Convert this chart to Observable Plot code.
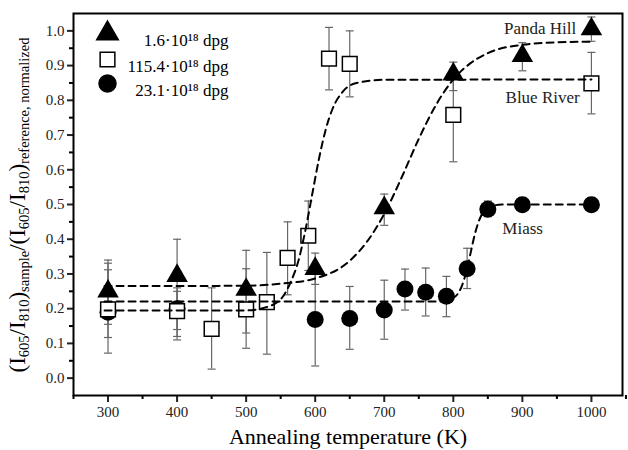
<!DOCTYPE html>
<html><head><meta charset="utf-8">
<script src="https://cdn.jsdelivr.net/npm/d3@7"></script>
<script src="https://cdn.jsdelivr.net/npm/@observablehq/plot@0.6"></script>
<style>body{margin:0;background:#fff}svg{display:block}</style>
</head><body><div id="chart"></div>
<script>
// Series: 1.6·10^18 dpg (triangles, Panda Hill)
const triT  = [300, 400, 500, 600, 700, 800, 900, 1000];
const triV  = [0.25, 0.295, 0.255, 0.315, 0.49, 0.875, 0.928, 1.005];
const triLo = [0.155, 0.11, 0.13, 0.27, 0.44, 0.828, 0.885, 0.97];
const triHi = [0.34, 0.40, 0.368, 0.36, 0.53, 0.91, 0.966, 1.04];
// Series: 115.4·10^18 dpg (open squares, Blue River)
const sqT  = [300, 400, 450, 500, 530, 560, 590, 620, 650, 800, 1000];
const sqV  = [0.198, 0.193, 0.142, 0.198, 0.219, 0.346, 0.41, 0.92, 0.905, 0.758, 0.849];
const sqLo = [0.072, 0.12, 0.026, 0.086, 0.069, 0.24, 0.31, 0.83, 0.81, 0.623, 0.761];
const sqHi = [0.331, 0.26, 0.26, 0.315, 0.362, 0.45, 0.51, 1.01, 1.0, 0.87, 0.938];
// Series: 23.1·10^18 dpg (circles, Miass)
const ciT  = [300, 400, 600, 650, 700, 730, 760, 790, 820, 850, 900, 1000];
const ciV  = [0.19, 0.20, 0.169, 0.172, 0.196, 0.257, 0.247, 0.236, 0.315, 0.486, 0.499, 0.499];
const ciLo = [0.117, 0.14, 0.035, 0.083, 0.112, 0.196, 0.179, 0.177, 0.258, 0.465, 0.48, 0.48];
const ciHi = [0.312, 0.25, 0.30, 0.264, 0.282, 0.314, 0.317, 0.293, 0.374, 0.51, 0.52, 0.52];
// Dashed fit curves
const fitPandaT = [295, 500, 550, 600, 650, 675, 700, 725, 750, 775, 800, 825, 850, 900, 950, 1000];
const fitPandaV = [0.265, 0.266, 0.272, 0.287, 0.338, 0.393, 0.473, 0.577, 0.689, 0.787, 0.860, 0.907, 0.936, 0.960, 0.967, 0.969];
const fitBlueT = [295, 500, 525, 550, 565, 575, 585, 595, 605, 615, 625, 640, 660, 700, 1000];
const fitBlueV = [0.195, 0.195, 0.202, 0.227, 0.279, 0.333, 0.418, 0.522, 0.627, 0.714, 0.775, 0.825, 0.850, 0.859, 0.860];
const fitMiassT = [295, 780, 800, 815, 820, 825, 830, 835, 840, 850, 870, 1000];
const fitMiassV = [0.221, 0.221, 0.231, 0.280, 0.316, 0.360, 0.405, 0.441, 0.466, 0.490, 0.500, 0.500];
// Ticks
const xMajor = [300, 400, 500, 600, 700, 800, 900, 1000];
const xMinor = [250, 350, 450, 550, 650, 750, 850, 950, 1050];
const yMajor = [0, 0.1, 0.2, 0.3, 0.4, 0.5, 0.6, 0.7, 0.8, 0.9, 1.0];
const yMinor = [0.05, 0.15, 0.25, 0.35, 0.45, 0.55, 0.65, 0.75, 0.85, 0.95];
// Legend and annotations
const legendLabels = ["1.6·10¹⁸ dpg", "115.4·10¹⁸ dpg", "23.1·10¹⁸ dpg"];
const legendSymbols = ["triangle", "square", "circle"];
const noteLabels = ["Panda Hill", "Blue River", "Miass"];
const noteT = [978, 983, 871];
const noteV = [1.008, 0.808, 0.43];
const noteAnchor = ["end", "end", "start"];

const rows = (T, V, Lo, Hi) => T.map((t, i) => ({t, v: V[i], lo: Lo[i], hi: Hi[i]}));
const tri = rows(triT, triV, triLo, triHi);
const sq = rows(sqT, sqV, sqLo, sqHi);
const ci = rows(ciT, ciV, ciLo, ciHi);
const fits = [
  ...fitPandaT.map((t, i) => ({t, v: fitPandaV[i], s: "Panda"})),
  ...fitBlueT.map((t, i) => ({t, v: fitBlueV[i], s: "Blue"})),
  ...fitMiassT.map((t, i) => ({t, v: fitMiassV[i], s: "Miass"}))
];
const notes = noteLabels.map((l, i) => ({l, t: noteT[i], v: noteV[i], a: noteAnchor[i]}));
const cap = {draw(ctx) { ctx.moveTo(-4, 0); ctx.lineTo(4, 0); }};
const errColor = "#666";
const rTri = 8, rSq = 8.3, rCi = 8.5;

const errMarks = (d) => [
  Plot.ruleX(d, {x: "t", y1: "lo", y2: "hi", stroke: errColor, strokeWidth: 1.2}),
  Plot.dot(d, {x: "t", y: "lo", symbol: cap, r: 4, stroke: errColor, strokeWidth: 1.2, fill: "none"}),
  Plot.dot(d, {x: "t", y: "hi", symbol: cap, r: 4, stroke: errColor, strokeWidth: 1.2, fill: "none"})
];

const legendRowDy = [20, 46, 70];
const legendMarks = legendLabels.flatMap((lab, i) => [
  Plot.dot([lab], {frameAnchor: "top-left", dx: 34, dy: legendRowDy[i], symbol: legendSymbols[i],
    r: legendSymbols[i] === "square" ? rSq : (legendSymbols[i] === "triangle" ? rTri : rCi),
    fill: legendSymbols[i] === "square" ? "white" : "black", stroke: "black", strokeWidth: 1.5}),
  Plot.text([lab], {frameAnchor: "top-left", dx: 155, dy: legendRowDy[i], text: d => d, textAnchor: "end", fontSize: 17, fill: "black"})
]);

const chart = Plot.plot({
  width: 628, height: 450,
  marginLeft: 73, marginRight: 6, marginTop: 13, marginBottom: 55,
  style: {fontFamily: "'Liberation Serif', 'DejaVu Serif', serif", background: "white"},
  x: {domain: [250, 1045]},
  y: {domain: [-0.05, 1.05]},
  marks: [
    Plot.axisX({ticks: xMajor, tickSize: 7, tickPadding: 4, fontSize: 15, tickFormat: d => String(d), label: null, strokeWidth: 2, color: "#222"}),
    Plot.axisX({ticks: xMinor, tickSize: 4, tickFormat: () => "", label: null, strokeWidth: 2}),
    Plot.axisY({ticks: yMajor, tickSize: 6, tickPadding: 3, fontSize: 15, tickFormat: d3.format(".1f"), label: null, strokeWidth: 2, color: "#222"}),
    Plot.axisY({ticks: yMinor, tickSize: 4, tickFormat: () => "", label: null, strokeWidth: 2}),
    ...errMarks(tri), ...errMarks(sq), ...errMarks(ci),
    Plot.dot(ci, {x: "t", y: "v", symbol: "circle", r: rCi, fill: "black"}),
    Plot.dot(sq, {x: "t", y: "v", symbol: "square", r: rSq, fill: "white", stroke: "black", strokeWidth: 1.5}),
    Plot.dot(tri, {x: "t", y: "v", symbol: "triangle", r: rTri, fill: "black"}),
    Plot.line(fits, {x: "t", y: "v", z: "s", stroke: "black", strokeWidth: 2, strokeDasharray: "7,5", curve: "monotone-x"}),
    Plot.text(notes.filter(d => d.a === "end"), {x: "t", y: "v", text: "l", textAnchor: "end", fontSize: 17, fill: "#222"}),
    Plot.text(notes.filter(d => d.a === "start"), {x: "t", y: "v", text: "l", textAnchor: "start", fontSize: 17, fill: "#222"}),
    ...legendMarks,
    Plot.text(["Annealing temperature (K)"], {frameAnchor: "bottom", dy: 41, lineAnchor: "middle", fontSize: 22, fill: "black"}),
    Plot.frame({stroke: "black", strokeWidth: 2})
  ]
});
document.getElementById("chart").appendChild(chart);

// Y-axis title with subscripts
const svg = d3.select(chart.tagName === "svg" ? chart : chart.querySelector("svg"));
const yl = svg.append("text")
  .attr("transform", "translate(25,205) rotate(-90)")
  .attr("text-anchor", "middle")
  .attr("font-family", "'Liberation Serif', serif")
  .attr("font-size", 23)
  .attr("fill", "black");
const parts = [
  ["(I", 0], ["605", 1], ["/I", 0], ["810", 1], [")", 0], ["sample", 1],
  ["/(I", 0], ["605", 1], ["/I", 0], ["810", 1], [")", 0], ["reference, normalized", 1]
];
parts.forEach(([s, sub]) => {
  yl.append("tspan").text(s)
    .attr("font-size", sub ? 14.5 : 23)
    .attr("baseline-shift", sub ? "-25%" : null);
});
</script></body></html>
